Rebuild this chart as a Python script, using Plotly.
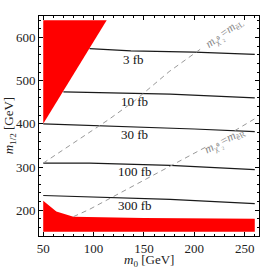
import plotly.graph_objects as go

# axis ranges (m0, m1/2 in GeV)
m0_range = [45.8, 264.2]
m12_range = [140.2, 649.8]
x_ticks = [50, 100, 150, 200, 250]
y_ticks = [200, 300, 400, 500, 600]

# excluded regions (red)
tri_m0 = [50, 50, 113, 50]
tri_m12 = [400, 640, 640, 400]
low_m0 = [50, 63, 80, 150, 260, 260, 50]
low_m12 = [222, 197, 185, 182, 180, 150, 150]

# luminosity contours
c3_m0 = [96, 137, 200, 260]
c3_m12 = [574, 569, 566, 561]
c10_m0 = [70, 96, 176, 260]
c10_m12 = [474, 473, 469, 460]
c30_m0 = [50, 100, 150, 200, 260]
c30_m12 = [400, 396, 393, 388, 382]
c100_m0 = [50, 96, 176, 200, 260]
c100_m12 = [309, 309, 304, 301, 294]
c300_m0 = [50, 96, 137, 176, 260]
c300_m12 = [234, 231, 229, 225, 215]

contour_labels = ["3 fb", "10 fb", "30 fb", "100 fb", "300 fb"]
label_m0 = [140, 141, 140.5, 141, 141]
label_m12 = [548, 452, 375, 290, 210.5]

# mass-degeneracy lines (dashed)
eL_m0 = [50, 93, 115, 140, 175, 209]
eL_m12 = [309, 375, 410, 452, 521, 578]
eR_m0 = [80, 96, 176, 212, None, 240, 263]
eR_m12 = [185, 202, 302, 347, None, 384, 416]

SERIF = "Liberation Serif, Times New Roman, serif"
RED = "#FF0000"

fig = go.Figure()
fig.add_trace(go.Scatter(x=tri_m0, y=tri_m12, fill="toself", fillcolor=RED,
                         mode="lines", line=dict(width=0, color=RED), hoverinfo="skip"))
fig.add_trace(go.Scatter(x=low_m0, y=low_m12, fill="toself", fillcolor=RED,
                         mode="lines", line=dict(width=0, color=RED), hoverinfo="skip"))

for xs, ys in [(c3_m0, c3_m12), (c10_m0, c10_m12), (c30_m0, c30_m12),
               (c100_m0, c100_m12), (c300_m0, c300_m12)]:
    fig.add_trace(go.Scatter(x=xs, y=ys, mode="lines",
                             line=dict(color="#1a1a1a", width=1.2)))

for xs, ys in [(eL_m0, eL_m12), (eR_m0, eR_m12)]:
    fig.add_trace(go.Scatter(x=xs, y=ys, mode="lines", connectgaps=False,
                             line=dict(color="#999999", width=1, dash="5px,4px")))

for t, x, y in zip(contour_labels, label_m0, label_m12):
    fig.add_annotation(x=x, y=y, text=t, showarrow=False,
                       font=dict(family=SERIF, size=13, color="#111111"))

fig.add_annotation(x=230.2, y=610.5, textangle=-36, showarrow=False,
                   text="<i>m</i><sub>χ̃⁰₂</sub>=<i>m</i><sub>ẽL</sub>",
                   font=dict(family=SERIF, size=12, color="#888888"))
fig.add_annotation(x=230, y=360, textangle=-28, showarrow=False,
                   text="<i>m</i><sub>χ̃⁰₂</sub>=<i>m</i><sub>ẽR</sub>",
                   font=dict(family=SERIF, size=12, color="#888888"))

# axis titles
fig.add_annotation(xref="paper", yref="paper", x=0.5, y=-0.112, yanchor="middle",
                   text="<i>m</i><sub>0</sub> [GeV]", showarrow=False,
                   font=dict(family=SERIF, size=13, color="#222222"))
fig.add_annotation(xref="paper", yref="paper", x=-0.135, y=0.5, xanchor="center",
                   textangle=-90, text="<i>m</i><sub>1/2</sub> [GeV]", showarrow=False,
                   font=dict(family=SERIF, size=13, color="#222222"))

axis_common = dict(showgrid=False, zeroline=False, showline=True, linecolor="black",
                   linewidth=1, mirror="ticks", ticks="inside", ticklen=4,
                   tickcolor="black", tickwidth=1, automargin=False,
                   tickfont=dict(family=SERIF, size=13, color="#222222"))

fig.update_xaxes(range=m0_range, tickvals=x_ticks,
                 minor=dict(ticks="inside", dtick=10, tick0=50, ticklen=2, tickcolor="black"),
                 **axis_common)
fig.update_yaxes(range=m12_range, tickvals=y_ticks,
                 minor=dict(ticks="inside", dtick=20, tick0=200, ticklen=2, tickcolor="black"),
                 **axis_common)

fig.update_layout(width=262, height=270, showlegend=False,
                  margin=dict(l=39, r=3, t=16, b=34),
                  paper_bgcolor="white", plot_bgcolor="white")

fig.write_html("out.html", config={"displayModeBar": False})

# remove the browser's default body margin so the figure sits at the page origin
with open("out.html", "r", encoding="utf-8") as f:
    html = f.read()
html = html.replace("<body>", '<body style="margin:0;padding:0;overflow:hidden">', 1)
html = html.replace("<head>", "<head><style>html,body{margin:0;padding:0;overflow:hidden}</style>", 1)
with open("out.html", "w", encoding="utf-8") as f:
    f.write(html)
